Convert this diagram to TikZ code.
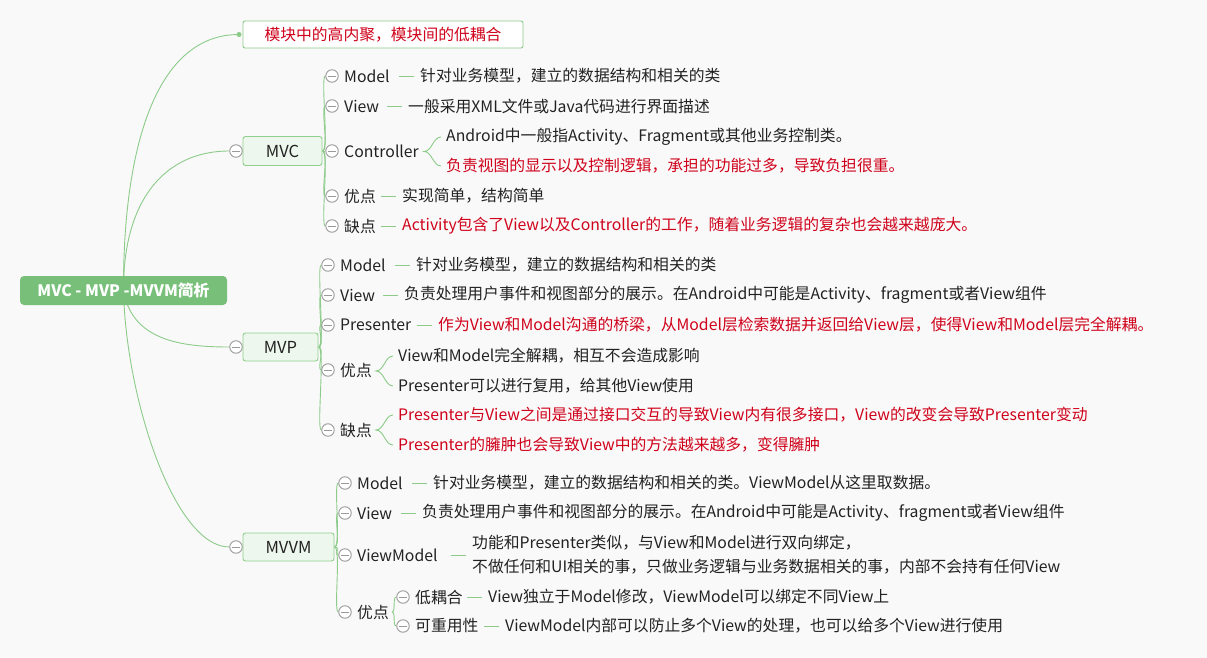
\documentclass[tikz,border=0pt]{standalone}
\usepackage{fontspec}
\setmainfont{Noto Sans CJK SC}
\usetikzlibrary{calc}
\definecolor{bgc}{HTML}{F9F9F9}
\definecolor{lgreen}{HTML}{8CCB8A}
\definecolor{rootg}{HTML}{78C07A}
\definecolor{boxfill}{HTML}{EEF7ED}
\definecolor{boxline}{HTML}{8ED08C}
\definecolor{redt}{HTML}{D0021B}
\definecolor{circ}{HTML}{9A9A9A}
\definecolor{txtc}{HTML}{222222}
\pgfdeclarelayer{bglayer}
\pgfdeclarelayer{linelayer}
\pgfsetlayers{bglayer,linelayer,main}
\newcommand\mybrace[2]{%
  \draw[lk] ([xshift=-5pt]#1.west) .. controls +(-8,0) and +(8,0) .. ($(#1.west)!.5!(#2.west)+(-22,0)$)
    .. controls +(8,0) and +(-8,0) .. ([xshift=-5pt]#2.west);}
\newcommand\mydash[1]{\draw[lk] ([xshift=-21pt]#1.west) -- ([xshift=-6pt]#1.west);}
\begin{document}
\begin{tikzpicture}[x=1pt,y=-1pt,
  lk/.style={draw=lgreen,line width=0.9pt},
  txt/.style={anchor=west,inner sep=0pt,text=txtc,font=\fontsize{15.8}{19}\selectfont},
  redtxt/.style={text=redt},
  coll/.style={circle,draw=circ,fill=white,line width=0.9pt,minimum size=12.5pt,inner sep=0pt,
    path picture={\draw[circ,line width=0.9pt] ([xshift=-3.8pt]path picture bounding box.center) -- ([xshift=3.8pt]path picture bounding box.center);}},
  grp/.style={draw=boxline,fill=boxfill,rounded corners=2.5pt,line width=0.9pt,inner sep=0pt,text=txtc,font=\fontsize{16.5}{19}\selectfont},
  topbox/.style={draw=lgreen,fill=white,rounded corners=2pt,line width=0.9pt,inner sep=0pt,text=redt,font=\fontsize{15.8}{19}\selectfont,minimum width=280pt,minimum height=27pt},
  rootbox/.style={fill=rootg,rounded corners=4pt,inner sep=0pt,text=white,font=\fontsize{15.8}{19}\selectfont\bfseries,minimum width=207pt,minimum height=29pt},
]
\useasboundingbox (0,0) rectangle (1207,658);
\begin{pgfonlayer}{bglayer}
\fill[bgc] (0,0) rectangle (1207,658);
\end{pgfonlayer}

% root and top
\node[rootbox] (root) at (123.5,290.5) {MVC - MVP -MVVM简析};
\node[topbox] (top) at (383,34.5) {模块中的高内聚，模块间的低耦合};
\node[circle,fill=lgreen,minimum size=5pt,inner sep=0pt] (dot) at (239,34.5) {};

% groups
\node[grp,minimum width=79pt,minimum height=29pt] (mvc) at (282.5,151) {MVC};
\node[coll] (cmvc) at (236,151) {};
\node[grp,minimum width=75pt,minimum height=28pt] (mvp) at (280.5,347) {MVP};
\node[coll] (cmvp) at (236,347) {};
\node[grp,minimum width=91pt,minimum height=28pt] (mvvm) at (288.5,547) {MVVM};
\node[coll] (cmvvm) at (236,547) {};

% MVC children
\node[coll] (ca1) at (332,76) {};
\node[txt] (la1) at (344,76) {Model};
\node[txt] (da1) at (420,76) {针对业务模型，建立的数据结构和相关的类};
\node[coll] (ca2) at (332,106) {};
\node[txt] (la2) at (344,106) {View};
\node[txt] (da2) at (408,106) {一般采用XML文件或Java代码进行界面描述};
\node[coll] (ca3) at (332,151) {};
\node[txt] (la3) at (344,151) {Controller};
\node[txt] (da3a) at (446,137) {Android中一般指Activity、Fragment或其他业务控制类。};
\node[txt,redtxt] (da3b) at (446,166) {负责视图的显示以及控制逻辑，承担的功能过多，导致负担很重。};
\node[coll] (ca4) at (332,196) {};
\node[txt] (la4) at (344,196) {优点};
\node[txt] (da4) at (402,196) {实现简单，结构简单};
\node[coll] (ca5) at (332,226) {};
\node[txt] (la5) at (344,226) {缺点};
\node[txt,redtxt] (da5) at (402,226) {Activity包含了View以及Controller的工作，随着业务逻辑的复杂也会越来越庞大。};

% MVP children
\node[coll] (cb1) at (328,265) {};
\node[txt] (lb1) at (340,265) {Model};
\node[txt] (db1) at (416,265) {针对业务模型，建立的数据结构和相关的类};
\node[coll] (cb2) at (328,295) {};
\node[txt] (lb2) at (340,295) {View};
\node[txt] (db2) at (404,295) {负责处理用户事件和视图部分的展示。在Android中可能是Activity、fragment或者View组件};
\node[coll] (cb3) at (328,325) {};
\node[txt] (lb3) at (340,325) {Presenter};
\node[txt,redtxt] (db3) at (438,325) {作为View和Model沟通的桥梁，从Model层检索数据并返回给View层，使得View和Model层完全解耦。};
\node[coll] (cb4) at (328,370) {};
\node[txt] (lb4) at (340,370) {优点};
\node[txt] (db4a) at (398,356) {View和Model完全解耦，相互不会造成影响};
\node[txt] (db4b) at (398,386) {Presenter可以进行复用，给其他View使用};
\node[coll] (cb5) at (328,430) {};
\node[txt] (lb5) at (340,430) {缺点};
\node[txt,redtxt] (db5a) at (398,415) {Presenter与View之间是通过接口交互的导致View内有很多接口，View的改变会导致Presenter变动};
\node[txt,redtxt] (db5b) at (398,445) {Presenter的臃肿也会导致View中的方法越来越多，变得臃肿};

% MVVM children
\node[coll] (cc1) at (345,483) {};
\node[txt] (lc1) at (357,483) {Model};
\node[txt] (dc1) at (433,483) {针对业务模型，建立的数据结构和相关的类。ViewModel从这里取数据。};
\node[coll] (cc2) at (345,513) {};
\node[txt] (lc2) at (357,513) {View};
\node[txt] (dc2) at (422,513) {负责处理用户事件和视图部分的展示。在Android中可能是Activity、fragment或者View组件};
\node[coll] (cc3) at (345,555) {};
\node[txt] (lc3) at (357,555) {ViewModel};
\node[txt,align=left,font=\fontsize{15.8}{24}\selectfont] (dc3) at (472,555) {功能和Presenter类似，与View和Model进行双向绑定，\\不做任何和UI相关的事，只做业务逻辑与业务数据相关的事，内部不会持有任何View};
\node[coll] (cc4) at (345,612) {};
\node[txt] (lc4) at (357,612) {优点};
\node[coll] (cd1) at (403,597) {};
\node[txt] (ld1) at (415,597) {低耦合};
\node[txt] (dd1) at (488,597) {View独立于Model修改，ViewModel可以绑定不同View上};
\node[coll] (cd2) at (403,626) {};
\node[txt] (ld2) at (415,626) {可重用性};
\node[txt] (dd2) at (505,626) {ViewModel内部可以防止多个View的处理，也可以给多个View进行使用};

\begin{pgfonlayer}{linelayer}
% root curves
\draw[lk] (root.center) .. controls (123,150) and (155,34.5) .. (dot.center);
\draw[lk] (root.center) .. controls (123,200) and (165,151) .. (cmvc.west);
\draw[lk] (root.center) .. controls (132,340) and (180,347) .. (cmvp.west);
\draw[lk] (root.center) .. controls (126,400) and (175,547) .. (cmvvm.west);
% group fans
\foreach \c in {ca1,ca2,ca3,ca4,ca5}{\draw[lk] (mvc.east) .. controls +(7,0) and +(-5,0) .. (\c.west);}
\foreach \c in {cb1,cb2,cb3,cb4,cb5}{\draw[lk] (mvp.east) .. controls +(7,0) and +(-5,0) .. (\c.west);}
\foreach \c in {cc1,cc2,cc3,cc4}{\draw[lk] (mvvm.east) .. controls +(7,0) and +(-5,0) .. (\c.west);}
\foreach \c in {cd1,cd2}{\draw[lk] ([xshift=3pt]lc4.east) .. controls +(4,0) and +(-4,0) .. (\c.west);}
% dashes
\mydash{da1}\mydash{da2}\mydash{da4}\mydash{da5}
\mydash{db1}\mydash{db2}\mydash{db3}
\mydash{dc1}\mydash{dc2}\mydash{dc3}
\mydash{dd1}\mydash{dd2}
% braces
\mybrace{da3a}{da3b}
\mybrace{db4a}{db4b}
\mybrace{db5a}{db5b}
\end{pgfonlayer}
\end{tikzpicture}
\end{document}
